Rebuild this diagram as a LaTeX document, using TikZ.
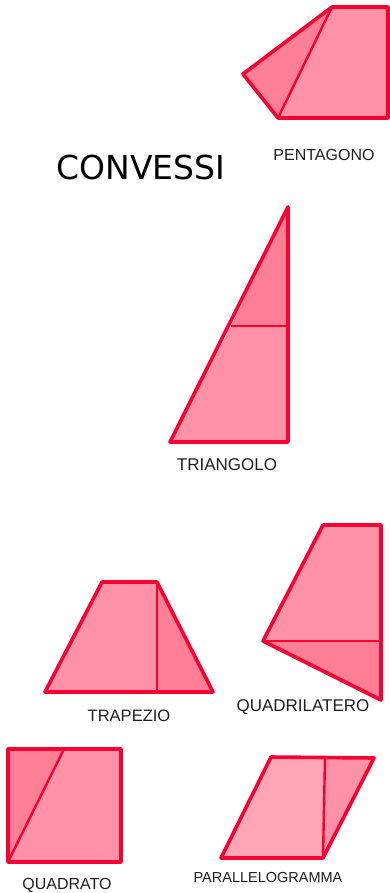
\documentclass[tikz,border=0pt]{standalone}
\usepackage{fontspec}
\setmainfont{Liberation Sans}
\newfontfamily\titlefont{DejaVu Sans}
\definecolor{edge}{RGB}{250,0,50}
\definecolor{fillA}{RGB}{255,146,166}
\definecolor{fillB}{RGB}{255,128,150}
\definecolor{fillC}{RGB}{255,166,182}
\definecolor{txt}{RGB}{30,30,30}
\begin{document}
\begin{tikzpicture}[x=1pt,y=-1pt,
  lightpart/.style={fill=fillA},
  darkpart/.style={fill=fillB},
  palepart/.style={fill=fillC},
  outline/.style={draw=edge,line width=3.6pt,line join=round},
  divider/.style={draw=edge,line width=2.4pt},
  lbl/.style={text=txt,font=\fontsize{17}{18}\selectfont,inner sep=0pt,anchor=center}]
\useasboundingbox (0,0) rectangle (390,893);

% Pentagon
\fill[lightpart] (332,7) -- (388,7) -- (388,118) -- (278,118) -- cycle;
\fill[darkpart] (332,7) -- (278,118) -- (243,74) -- cycle;
\draw[divider] (332,7) -- (278,118);
\draw[outline] (332,7) -- (388,7) -- (388,118) -- (278,118) -- (243,74) -- cycle;
\node[lbl,font=\fontsize{16}{17}\selectfont] (pent) at (324,155) {PENTAGONO};

% Title
\node[text=black,font=\titlefont\fontsize{33}{34}\selectfont,inner sep=0pt] (title) at (141,167) {CONVESSI};

% Triangle
\fill[lightpart] (231,326) -- (288,326) -- (288,442) -- (170,442) -- cycle;
\fill[darkpart] (288,207) -- (288,326) -- (231,326) -- cycle;
\draw[divider] (231,326) -- (288,326);
\draw[outline] (288,207) -- (288,442) -- (170,442) -- cycle;
\node[lbl] (tri) at (227,465) {TRIANGOLO};

% Trapezoid
\fill[lightpart] (45,692) -- (102,582) -- (157,582) -- (157,692) -- cycle;
\fill[darkpart] (157,582) -- (213,692) -- (157,692) -- cycle;
\draw[divider] (157,582) -- (157,692);
\draw[outline] (45,692) -- (102,582) -- (157,582) -- (213,692) -- cycle;
\node[lbl,font=\fontsize{16.5}{17}\selectfont] (trap) at (129,716) {TRAPEZIO};

% Quadrilateral
\fill[lightpart] (323,525) -- (381,525) -- (381,641) -- (263,641) -- cycle;
\fill[darkpart] (263,641) -- (381,641) -- (381,700) -- cycle;
\draw[divider] (263,641) -- (381,641);
\draw[outline] (323,525) -- (381,525) -- (381,700) -- (263,641) -- cycle;
\node[lbl] (quad) at (303,707) {QUADRILATERO};

% Square
\fill[lightpart] (64,749) -- (121,749) -- (121,862) -- (8,862) -- cycle;
\fill[darkpart] (8,749) -- (64,749) -- (8,862) -- cycle;
\draw[divider] (8,862) -- (64,749);
\draw[outline] (8,749) -- (121,749) -- (121,862) -- (8,862) -- cycle;
\node[lbl,font=\fontsize{16}{17}\selectfont] (sq) at (67,885) {QUADRATO};

% Parallelogram
\fill[palepart] (271,757) -- (325,757) -- (323,858) -- (221,858) -- cycle;
\fill[fillA] (325,757) -- (374,758) -- (323,858) -- cycle;
\draw[divider] (325,757) -- (323,858);
\draw[outline] (271,757) -- (374,758) -- (323,858) -- (221,858) -- cycle;
\node[lbl,font=\fontsize{14.5}{15}\selectfont] (par) at (268,877) {PARALLELOGRAMMA};
\end{tikzpicture}
\end{document}
